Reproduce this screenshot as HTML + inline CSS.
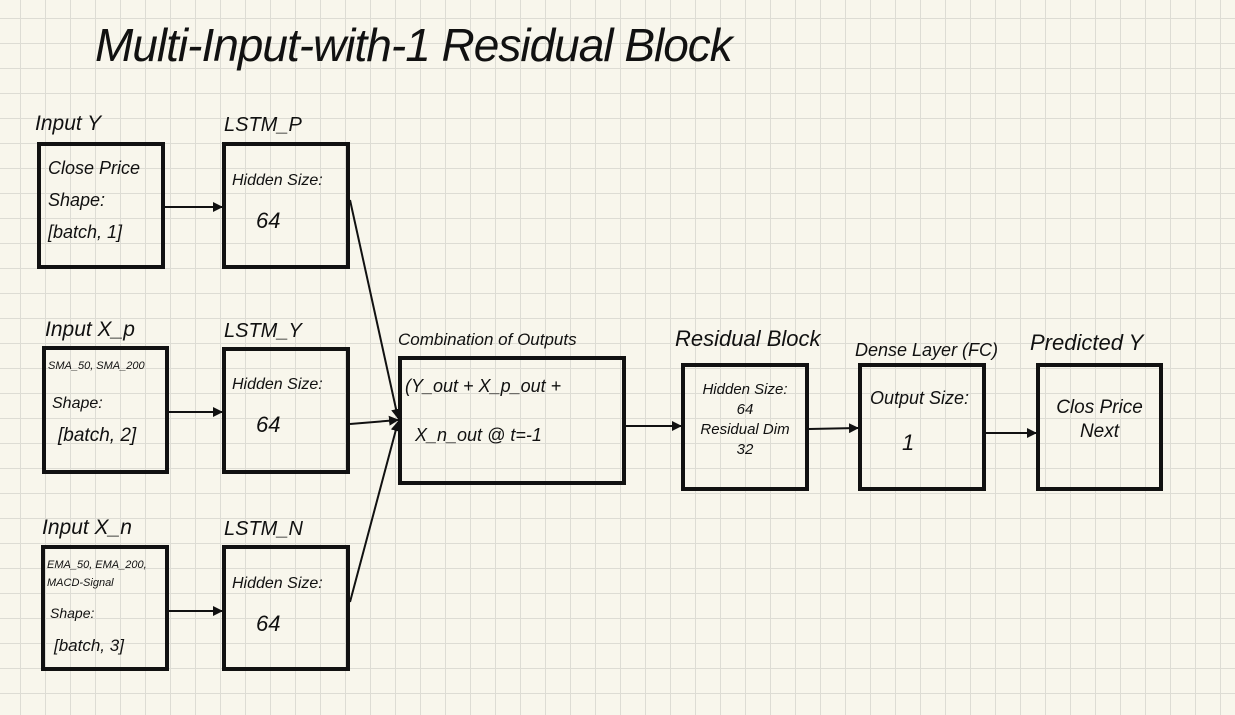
<!DOCTYPE html>
<html><head><meta charset="utf-8"><style>
body{margin:0;width:1235px;height:715px;overflow:hidden;background-color:#f8f6ec;
background-image:linear-gradient(#dddcd4 1px,transparent 1px),linear-gradient(90deg,#dddcd4 1px,transparent 1px);
background-size:25px 25px;background-position:-5px -7px;font-family:"Liberation Sans",sans-serif;}
.b{position:absolute;border:4px solid #111;box-sizing:border-box;}
.t{position:absolute;color:#111;white-space:nowrap;font-style:italic}
</style></head><body>
<div class="t" style="left:95px;top:18px;font-size:46px;letter-spacing:-1px">Multi-Input-with-1 Residual Block</div>

<div class="t" style="left:35px;top:112px;font-size:21px">Input Y</div>
<div class="b" style="left:37px;top:142px;width:128px;height:127px"></div>
<div class="t" style="left:48px;top:152px;font-size:18px;line-height:32px">Close Price<br>Shape:<br>[batch, 1]</div>

<div class="t" style="left:224px;top:114px;font-size:20px">LSTM_P</div>
<div class="b" style="left:222px;top:142px;width:128px;height:127px"></div>
<div class="t" style="left:232px;top:172px;font-size:16px">Hidden Size:</div>
<div class="t" style="left:256px;top:208px;font-size:22px">64</div>

<div class="t" style="left:45px;top:318px;font-size:21px">Input X_p</div>
<div class="b" style="left:42px;top:346px;width:127px;height:128px"></div>
<div class="t" style="left:48px;top:360px;font-size:11px">SMA_50, SMA_200</div>
<div class="t" style="left:52px;top:395px;font-size:16px">Shape:</div>
<div class="t" style="left:58px;top:425px;font-size:19px">[batch, 2]</div>

<div class="t" style="left:224px;top:320px;font-size:20px">LSTM_Y</div>
<div class="b" style="left:222px;top:347px;width:128px;height:127px"></div>
<div class="t" style="left:232px;top:376px;font-size:16px">Hidden Size:</div>
<div class="t" style="left:256px;top:412px;font-size:22px">64</div>

<div class="t" style="left:42px;top:516px;font-size:21px">Input X_n</div>
<div class="b" style="left:41px;top:545px;width:128px;height:126px"></div>
<div class="t" style="left:47px;top:556px;font-size:11px;line-height:18px">EMA_50, EMA_200,<br>MACD-Signal</div>
<div class="t" style="left:50px;top:605px;font-size:14px">Shape:</div>
<div class="t" style="left:54px;top:636px;font-size:17px">[batch, 3]</div>

<div class="t" style="left:224px;top:518px;font-size:20px">LSTM_N</div>
<div class="b" style="left:222px;top:545px;width:128px;height:126px"></div>
<div class="t" style="left:232px;top:575px;font-size:16px">Hidden Size:</div>
<div class="t" style="left:256px;top:611px;font-size:22px">64</div>

<div class="t" style="left:398px;top:330px;font-size:17px">Combination of Outputs</div>
<div class="b" style="left:398px;top:356px;width:228px;height:129px"></div>
<div class="t" style="left:405px;top:376px;font-size:18px">(Y_out + X_p_out +</div>
<div class="t" style="left:415px;top:425px;font-size:18px">X_n_out @ t=-1</div>

<div class="t" style="left:675px;top:326px;font-size:22px">Residual Block</div>
<div class="b" style="left:681px;top:363px;width:128px;height:128px"></div>
<div class="t" style="left:686px;top:380px;font-size:15px;line-height:20px;text-align:center;width:118px">Hidden Size:<br>64<br>Residual Dim<br>32</div>

<div class="t" style="left:855px;top:340px;font-size:18px">Dense Layer (FC)</div>
<div class="b" style="left:858px;top:363px;width:128px;height:128px"></div>
<div class="t" style="left:870px;top:388px;font-size:18px">Output Size:</div>
<div class="t" style="left:902px;top:430px;font-size:22px">1</div>

<div class="t" style="left:1030px;top:330px;font-size:22px">Predicted Y</div>
<div class="b" style="left:1036px;top:363px;width:127px;height:128px"></div>
<div class="t" style="left:1036px;top:396px;font-size:19px;line-height:24px;text-align:center;width:127px">Clos Price<br>Next</div>

<svg width="1235" height="715" style="position:absolute;left:0;top:0">
<defs><marker id="a" markerWidth="10" markerHeight="10" refX="9" refY="5" orient="auto" markerUnits="userSpaceOnUse"><path d="M0,0 L10,5 L0,10z" fill="#111"/></marker></defs>
<g stroke="#111" stroke-width="2" fill="none" marker-end="url(#a)">
<line x1="165" y1="207" x2="222" y2="207"/>
<line x1="169" y1="412" x2="222" y2="412"/>
<line x1="169" y1="611" x2="222" y2="611"/>
<line x1="350" y1="200" x2="398" y2="418"/>
<line x1="350" y1="424" x2="398" y2="420"/>
<line x1="350" y1="602" x2="398" y2="422"/>
<line x1="626" y1="426" x2="681" y2="426"/>
<line x1="809" y1="429" x2="858" y2="428"/>
<line x1="986" y1="433" x2="1036" y2="433"/>
</g></svg>
</body></html>
